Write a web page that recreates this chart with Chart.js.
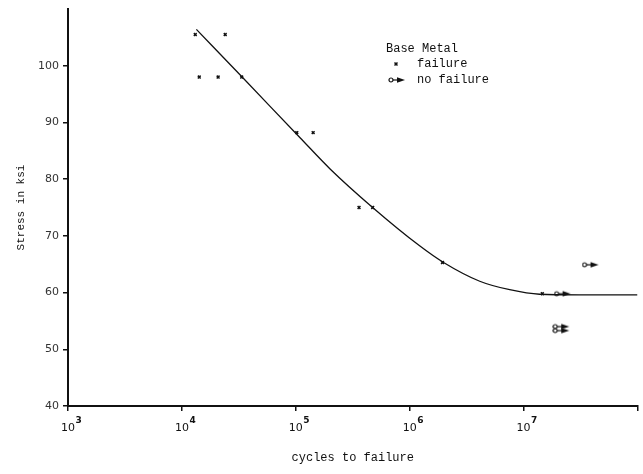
<!DOCTYPE html>
<html><head><meta charset="utf-8">
<script src="https://cdn.jsdelivr.net/npm/chart.js@4.4.1/dist/chart.umd.min.js"></script>
<style>html,body{margin:0;padding:0;background:#fff}#wrap{width:643px;height:474px}</style>
</head><body><div id="wrap"><canvas id="c" width="643" height="474"></canvas></div>
<script>
// ---- data ----
const failureCycles = [1.31e4, 2.40e4, 1.42e4, 2.08e4, 3.35e4, 1.02e5, 1.42e5, 3.59e5, 4.73e5, 1.94e6, 1.46e7];
const failureStress = [105.5, 105.5, 98.0, 98.0, 98.0, 88.2, 88.2, 75.0, 75.0, 65.3, 59.8];
const runoutCycles = [2.2e7, 3.87e7, 2.14e7, 2.14e7];
const runoutStress = [59.8, 64.9, 54.0, 53.3];
const curveCycles = [1.34e4, 3.38e4, 1.09e5, 2.0e5, 4.67e5, 1.23e6, 1.95e6, 4.12e6, 7.55e6, 1.38e7, 3.1e7, 1e8];
const curveStress = [106.4, 98.0, 87.3, 81.8, 75.1, 68.2, 65.4, 62.0, 60.5, 59.7, 59.6, 59.6];
const xTickValues = [1e3, 1e4, 1e5, 1e6, 1e7, 1e8];
const xTickBase = ['10', '10', '10', '10', '10', ''];
const xTickExponents = ['3', '4', '5', '6', '7', ''];
const yTickValues = [40, 50, 60, 70, 80, 90, 100];
const xTitle = 'cycles to failure';
const yTitle = 'Stress in ksi';
const legendTitle = 'Base Metal';
const legendLabels = ['failure', 'no failure'];

const INK = '#111';
const MONO = 'Liberation Mono';

// run-out (no failure) symbol: open circle + arrow
function makeArrow() {
  const c = document.createElement('canvas');
  c.width = 18; c.height = 8;
  const g = c.getContext('2d');
  g.strokeStyle = INK; g.fillStyle = INK; g.lineWidth = 1.2;
  g.beginPath(); g.arc(3, 4, 2, 0, Math.PI * 2); g.stroke();
  g.beginPath(); g.moveTo(5, 4); g.lineTo(11, 4); g.stroke();
  g.beginPath(); g.moveTo(9, 1.2); g.lineTo(17, 4); g.lineTo(9, 6.8); g.closePath(); g.fill();
  return c;
}
const arrowImg = makeArrow();

const extras = {
  id: 'extras',
  afterDraw(chart) {
    const ctx = chart.ctx;
    const xs = chart.scales.x;
    ctx.save();
    ctx.fillStyle = INK;
    // bold exponents of tick labels
    ctx.font = 'bold 9px "DejaVu Sans"';
    ctx.textAlign = 'left'; ctx.textBaseline = 'middle';
    xTickValues.forEach((v, i) => {
      if (!xTickExponents[i]) return;
      const px = xs.getPixelForValue(v);
      ctx.fillText(xTickExponents[i], px + 7.5, 421);
    });
    // legend
    ctx.font = '12px "' + MONO + '"';
    ctx.textBaseline = 'middle';
    ctx.fillText(legendTitle, 386, 49);
    ctx.fillText(legendLabels[0], 417, 64);
    ctx.fillText(legendLabels[1], 417, 80);
    // failure marker
    ctx.strokeStyle = INK; ctx.lineWidth = 1.5;
    ctx.beginPath();
    ctx.moveTo(394.5, 62.5); ctx.lineTo(397.5, 65.5);
    ctx.moveTo(397.5, 62.5); ctx.lineTo(394.5, 65.5);
    ctx.stroke();
    ctx.drawImage(arrowImg, 388, 76);
    ctx.restore();
  }
};

new Chart(document.getElementById('c'), {
  type: 'scatter',
  data: {
    datasets: [
      {
        type: 'line',
        label: 'fit',
        data: curveCycles.map((x, i) => ({ x, y: curveStress[i] })),
        borderColor: INK, borderWidth: 1.3, pointRadius: 0,
        cubicInterpolationMode: 'monotone', fill: false
      },
      {
        label: legendLabels[0],
        data: failureCycles.map((x, i) => ({ x, y: failureStress[i] })),
        pointStyle: 'crossRot', pointRadius: 2, borderColor: INK, backgroundColor: INK, borderWidth: 1.5
      },
      {
        label: legendLabels[1],
        data: runoutCycles.map((x, i) => ({ x, y: runoutStress[i] })),
        pointStyle: arrowImg
      }
    ]
  },
  options: {
    responsive: false, animation: false,
    layout: { padding: { top: 9, right: 5, left: 0, bottom: 0 } },
    plugins: { legend: { display: false }, tooltip: { enabled: false } },
    scales: {
      x: {
        type: 'logarithmic', min: 1e3, max: 1e8,
        afterBuildTicks: s => { s.ticks = xTickValues.map(v => ({ value: v })); },
        afterFit: s => { s.height = 68; s.paddingRight = 0; s.paddingLeft = 0; },
        ticks: {
          autoSkip: false, maxRotation: 0, minRotation: 0, padding: 11,
          font: { family: 'DejaVu Sans', size: 11 }, color: INK,
          callback: v => { const i = xTickValues.indexOf(v); return i >= 0 ? xTickBase[i] : ''; }
        },
        grid: { drawOnChartArea: false, drawTicks: true, tickLength: 5, color: INK, lineWidth: 1.5 },
        border: { color: INK, width: 2 },
        title: { display: true, text: xTitle, color: INK, font: { family: MONO, size: 12 }, padding: { top: 4, bottom: 9 } }
      },
      y: {
        min: 40, max: 110,
        afterBuildTicks: s => { s.ticks = yTickValues.map(v => ({ value: v })); },
        afterFit: s => { s.width = 68; s.paddingTop = 0; s.paddingBottom = 0; },
        ticks: { padding: 4, font: { family: 'DejaVu Sans', size: 11 }, color: '#333' },
        grid: { drawOnChartArea: false, drawTicks: true, tickLength: 5, color: INK, lineWidth: 1.5 },
        border: { color: INK, width: 2 },
        title: { display: true, text: yTitle, color: INK, font: { family: MONO, size: 11 }, padding: { top: 14, bottom: 0 } }
      }
    }
  },
  plugins: [extras]
});
</script>
</body></html>
